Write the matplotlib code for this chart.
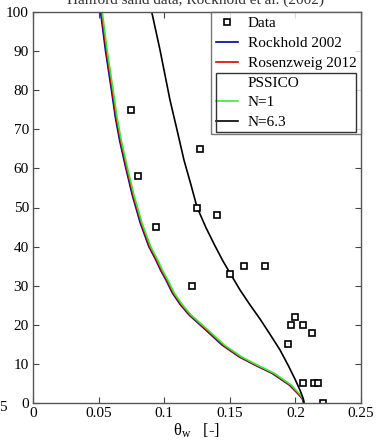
import numpy as np
import matplotlib
matplotlib.use("Agg")
import matplotlib.pyplot as plt
from matplotlib.lines import Line2D
from matplotlib.patches import Rectangle

# measured water content vs. pressure head
theta_data = [0.075, 0.080, 0.094, 0.127, 0.125, 0.140, 0.121, 0.150,
              0.161, 0.177, 0.200, 0.197, 0.206, 0.213, 0.194, 0.206,
              0.214, 0.217, 0.221]
head_data = [75, 58, 45, 65, 50, 48, 30, 33,
             35, 35, 22, 20, 20, 18, 15, 5,
             5, 5, 0]

# retention curves
head_curve = [100, 90, 80, 73, 67, 60, 53, 46, 40, 36.6, 33.8, 31.5, 28.1, 25.2,
              22.5, 18.7, 14.8, 11.8, 9.7, 7.6, 4.6, 2.0, 0.9, 0]
theta_rockhold = [0.0515, 0.0553, 0.0598, 0.0628, 0.0661, 0.0708, 0.0758, 0.0818,
                  0.0883, 0.0936, 0.0975, 0.1013, 0.1063, 0.1122, 0.1190, 0.1316,
                  0.1442, 0.1572, 0.1692, 0.1822, 0.1954, 0.2030, 0.2056, 0.2062]
theta_rosenzweig = [0.0521, 0.0559, 0.0604, 0.0634, 0.0667, 0.0714, 0.0764, 0.0824,
                    0.0889, 0.0942, 0.0981, 0.1019, 0.1069, 0.1128, 0.1196, 0.1323,
                    0.1449, 0.1579, 0.1699, 0.1829, 0.1960, 0.2034, 0.2059, 0.2064]
theta_pssico_n1 = [0.0528, 0.0566, 0.0611, 0.0641, 0.0674, 0.0721, 0.0771, 0.0831,
                   0.0897, 0.0950, 0.0989, 0.1027, 0.1077, 0.1137, 0.1205, 0.1333,
                   0.1460, 0.1590, 0.1710, 0.1839, 0.1968, 0.2040, 0.2062, 0.2066]

head_n63 = [100, 90.3, 77.5, 69.8, 62.1, 55.8, 50.1, 44.8, 40.2, 36.3, 33.2,
            28.9, 25.1, 21.5, 17.6, 13.6, 9.7, 6.1, 3.3, 1.3, 0]
theta_n63 = [0.0905, 0.0968, 0.1044, 0.1098, 0.1151, 0.1204, 0.1250, 0.1319,
             0.1387, 0.1448, 0.1502, 0.1578, 0.1654, 0.1730, 0.1806, 0.1882,
             0.1944, 0.1997, 0.2035, 0.2058, 0.2066]

x_ticks = [0, 0.05, 0.1, 0.15, 0.2, 0.25]
x_ticklabels = ["0", "0.05", "0.1", "0.15", "0.2", "0.25"]
y_ticks = [0, 10, 20, 30, 40, 50, 60, 70, 80, 90, 100]

plt.rcParams['font.family'] = ['Liberation Serif', 'DejaVu Serif']
plt.rcParams['mathtext.fontset'] = 'stix'

fig = plt.figure(figsize=(3.76, 4.42), dpi=100)
ax = fig.add_axes([33 / 376, 39 / 442, 328 / 376, 391 / 442])

ax.plot(theta_rockhold, head_curve, color='#0000a0', lw=1.2, label='Rockhold 2002')
ax.plot(theta_rosenzweig, head_curve, color='#e00000', lw=1.2, label='Rosenzweig 2012')
ax.plot(theta_pssico_n1, head_curve, color='#33ee33', lw=1.2, label='N=1')
ax.plot(theta_n63, head_n63, color='black', lw=1.2, label='N=6.3')
ax.plot(theta_data, head_data, 's', ms=5, mfc='white', mec='black', mew=1.2,
        label='Data')

ax.set_xlim(0, 0.25)
ax.set_ylim(0, 100)
ax.set_xticks(x_ticks)
ax.set_xticklabels(x_ticklabels)
ax.set_yticks(y_ticks)
ax.tick_params(direction='in', top=True, right=True, labelsize=11,
               length=4, color='#444444', pad=3)
for sp in ax.spines.values():
    sp.set_color('#555555')
    sp.set_linewidth(1.0)

ax.set_xlabel(r'θ$_\mathregular{w}$   [-]', fontsize=12, labelpad=1)

# legend: data + two models, then the PSSICO group
blank = Line2D([], [], color='none')
hs, ls = ax.get_legend_handles_labels()
handles = [hs[4], hs[0], hs[1], blank, hs[2], hs[3]]
labels = ['Data', 'Rockhold 2002', 'Rosenzweig 2012', 'PSSICO', 'N=1', 'N=6.3']
leg = ax.legend(handles, labels, loc='upper right', bbox_to_anchor=(1, 1),
                borderaxespad=0, fontsize=11, frameon=True, fancybox=False,
                handlelength=1.5, handletextpad=0.6, labelspacing=0.4,
                borderpad=0.3, edgecolor='#555555')
leg.get_frame().set_linewidth(1.0)

fig.text(0.52, 1.0 - 4 / 442, 'Hanford sand data, Rockhold et al. (2002)',
         ha='center', va='baseline', fontsize=11, color='#333333')
fig.text(8 / 376, (442 - 411) / 442, '0.25', ha='right', va='baseline',
         fontsize=11)

# box around the PSSICO entries, sized from the rendered legend
fig.canvas.draw()
renderer = fig.canvas.get_renderer()
frame_bb = leg.get_frame().get_window_extent(renderer)
group_bbs = [t.get_window_extent(renderer) for t in leg.get_texts()[3:]]
top = max(b.y1 for b in group_bbs) + 4
bottom = min(b.y0 for b in group_bbs) - 3
left = frame_bb.x0 + 5
right = frame_bb.x1 - 5
inv = fig.transFigure.inverted()
(fx0, fy0), (fx1, fy1) = inv.transform([(left, bottom), (right, top)])
fig.patches.append(Rectangle((fx0, fy0), fx1 - fx0, fy1 - fy0,
                             transform=fig.transFigure, fill=False,
                             edgecolor='#333333', lw=1.0))

fig.savefig('out.png', dpi=100)
